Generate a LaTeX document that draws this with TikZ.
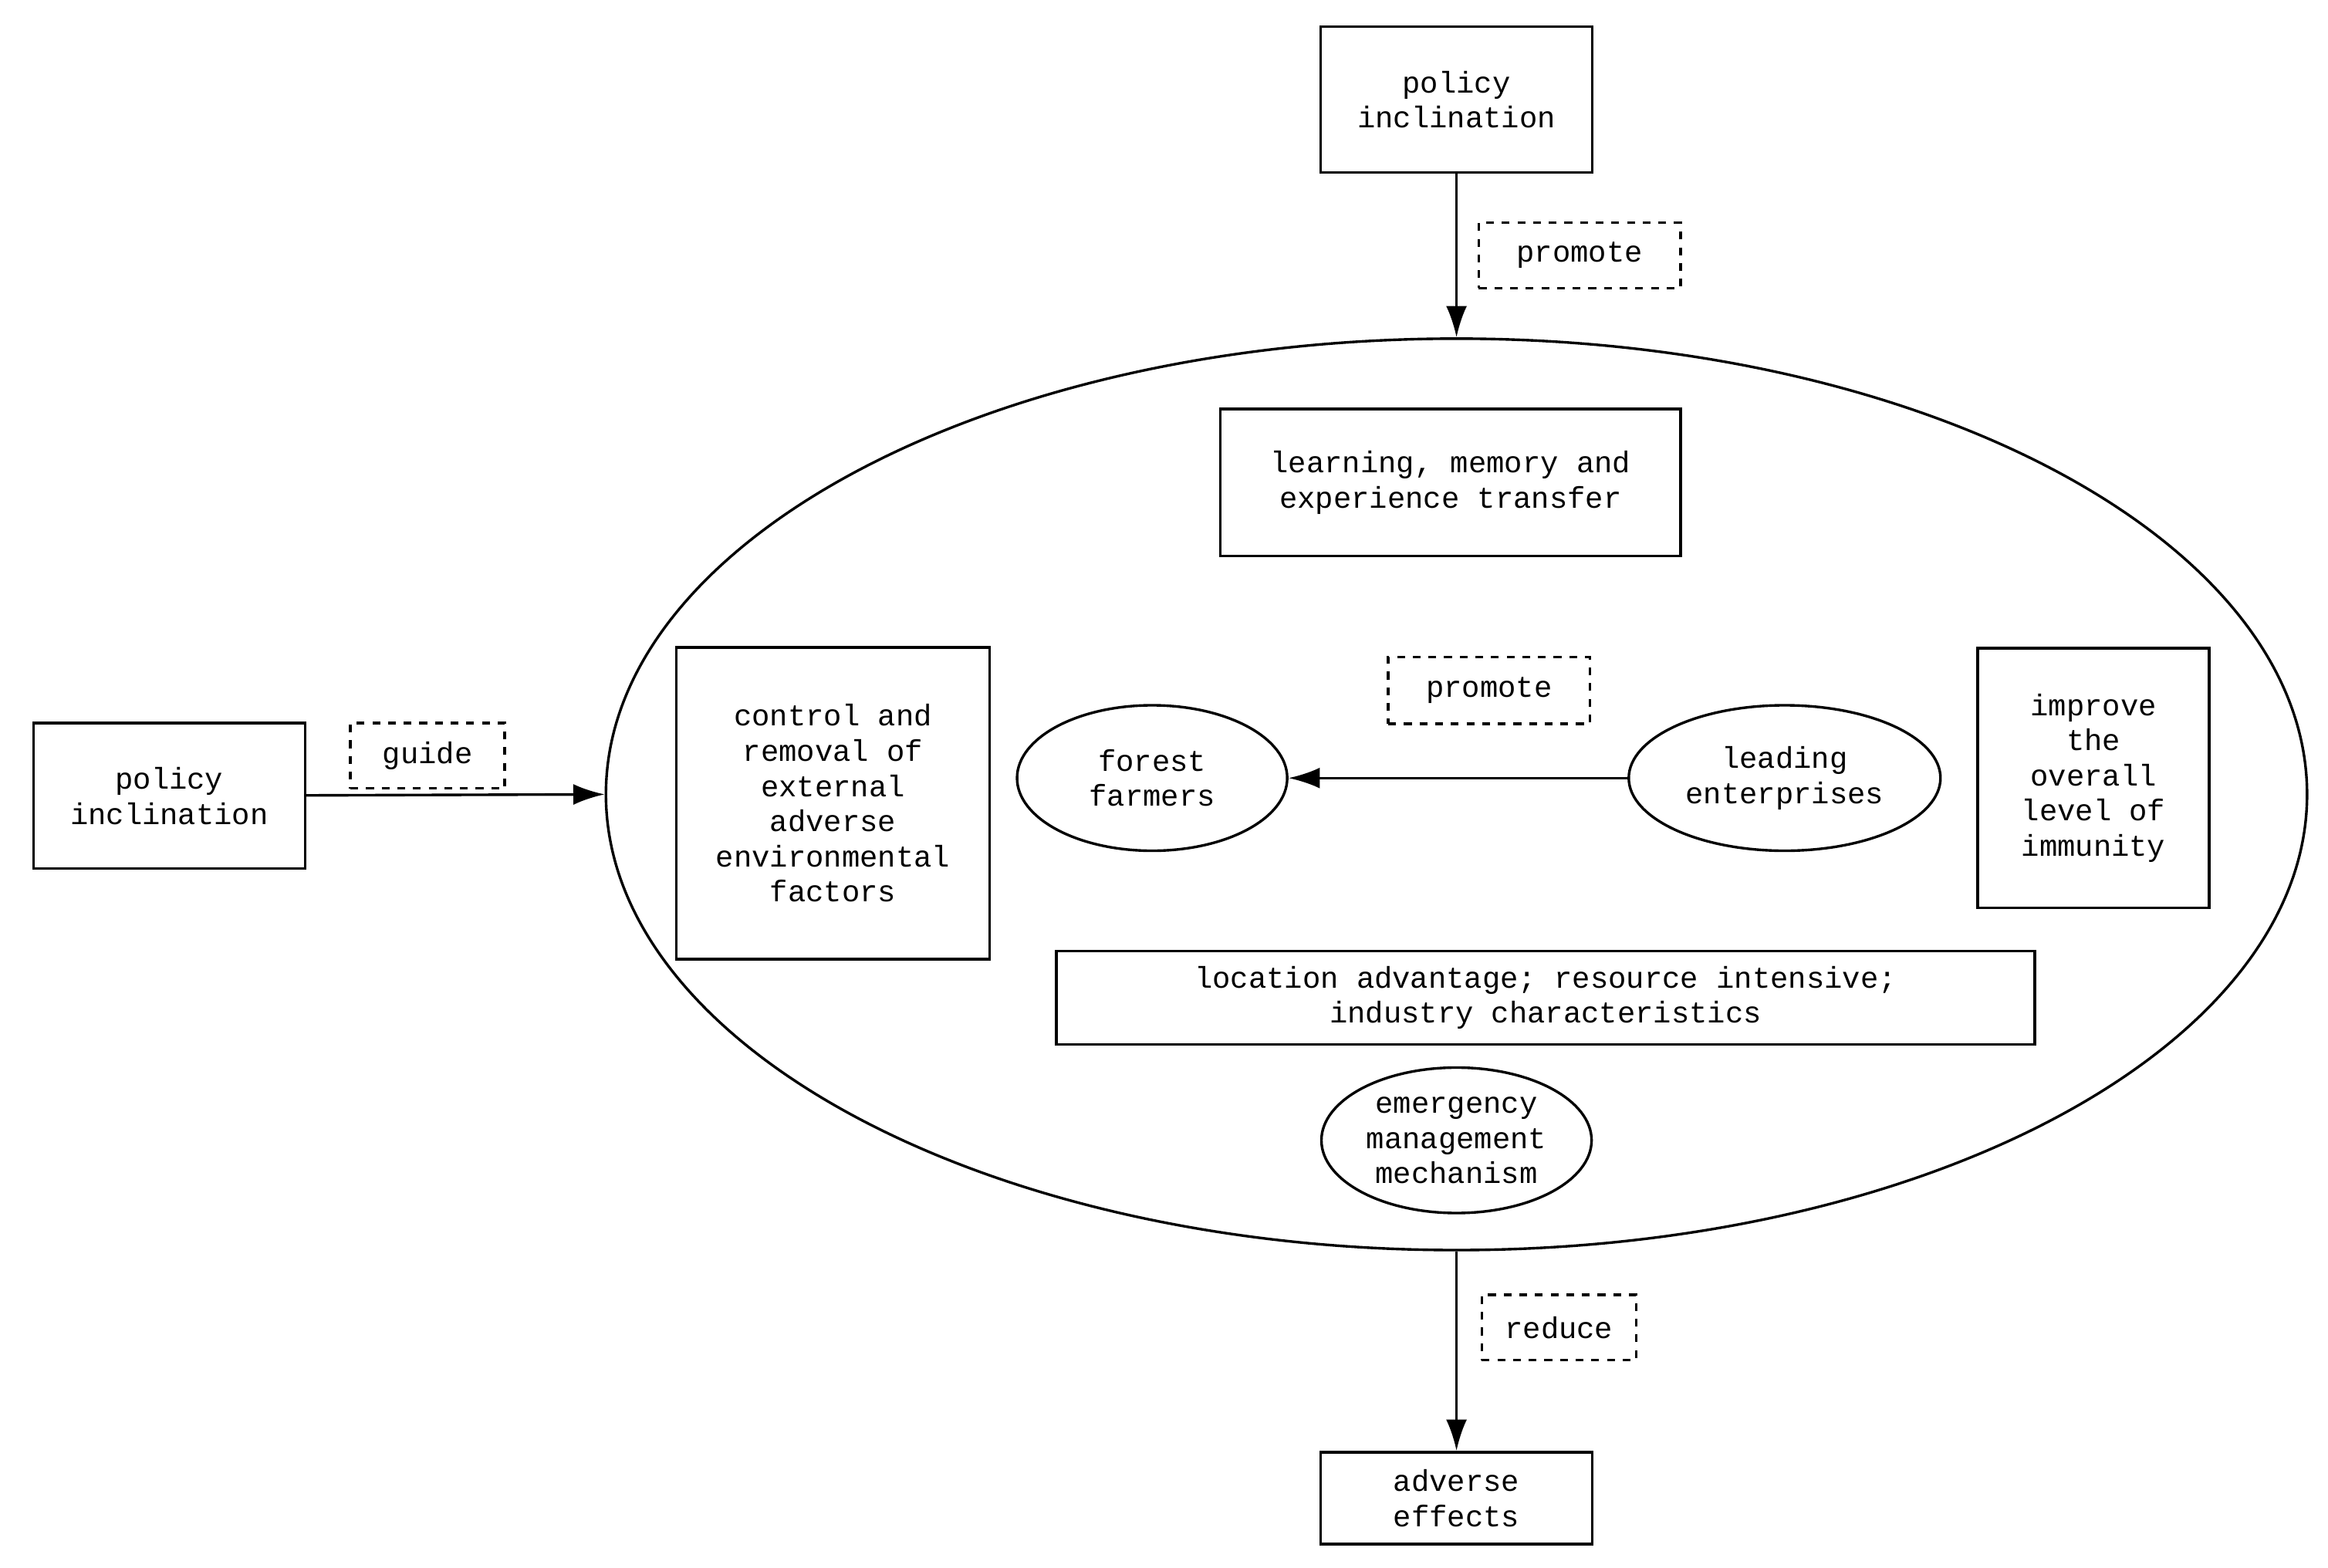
\documentclass[tikz,border=0pt]{standalone}
\usepackage{fontspec}
\setmainfont{Liberation Mono}
\usetikzlibrary{shapes.geometric,arrows.meta}

\begin{document}
\begin{tikzpicture}[
    x=0.02cm,y=-0.02cm,
    every node/.style={font=\fontsize{11.5}{13.5}\selectfont,align=center,line width=1pt},
    box/.style={rectangle,draw,inner sep=2pt},
    tag/.style={rectangle,draw,dashed,inner sep=2pt},
    oval/.style={ellipse,draw,inner sep=1pt},
    flow/.style={-{Latex[length=12pt,width=8pt]},line width=1pt},
]
\useasboundingbox (0,0) rectangle (1568,1056);

%%%
% Outer ring
\node[oval,minimum width=22.92cm,minimum height=12.28cm] (core) at (981,535) {};

% Inputs and output
\node[box,minimum width=3.66cm,minimum height=1.96cm] (policytop) at (981,67) {policy\\inclination};
\node[box,minimum width=3.66cm,minimum height=1.96cm] (policyleft) at (114,536) {policy\\inclination};
\node[box,minimum width=3.66cm,minimum height=1.24cm] (adverse) at (981,1009) {adverse\\effects};

\node[tag,minimum width=2.72cm,minimum height=0.88cm] (promoteTop) at (1064,172) {promote};
\node[tag,minimum width=2.08cm,minimum height=0.88cm] (guide) at (288,509) {guide};
\node[tag,minimum width=2.08cm,minimum height=0.88cm] (reduce) at (1050,894) {reduce};

% Inside the ring
\node[box,minimum width=6.2cm,minimum height=1.98cm] (learning) at (977,325) {learning, memory and\\experience transfer};
\node[box,minimum width=4.22cm,minimum height=4.2cm] (control) at (561,541) {control and\\removal of\\external\\adverse\\environmental\\factors};
\node[box,minimum width=3.12cm,minimum height=3.5cm] (immunity) at (1410,524) {improve\\the\\overall\\level of\\immunity};
\node[box,minimum width=13.18cm,minimum height=1.26cm] (location) at (1041,672) {location advantage;  resource intensive;\\industry characteristics};
\node[tag,minimum width=2.72cm,minimum height=0.9cm] (promoteMid) at (1003,465) {promote};
\node[oval,minimum width=3.64cm,minimum height=1.96cm] (farmers) at (776,524) {forest\\farmers};
\node[oval,minimum width=4.2cm,minimum height=1.96cm] (leading) at (1202,524) {leading\\enterprises};
\node[oval,minimum width=3.64cm,minimum height=1.96cm] (emergency) at (981,768) {emergency\\management\\mechanism};

% Connectors
\draw[flow] (policytop) -- (core.north);
\draw[flow] (policyleft) -- (core.west);
\draw[flow] (core.south) -- (adverse);
\draw[flow] (leading) -- (farmers);
\end{tikzpicture}
\end{document}
